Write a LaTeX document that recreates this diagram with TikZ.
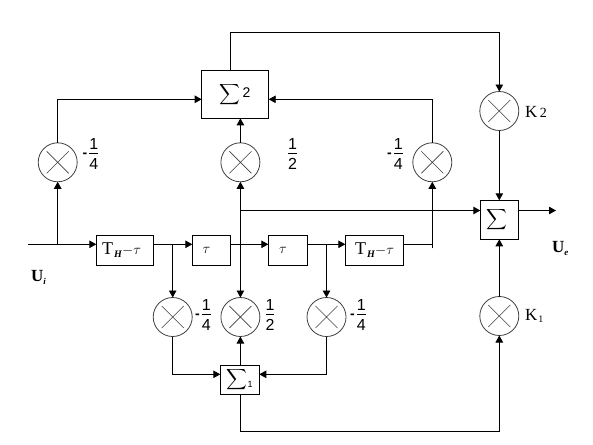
\documentclass[tikz,border=0pt]{standalone}
\usepackage{amsmath}
\usepackage{fontspec}
\setmainfont{Liberation Serif}
\newfontfamily\fracfont{Liberation Sans}
\usetikzlibrary{arrows.meta}
\newcommand{\fr}[2]{\begin{tabular}{@{}c@{}}\fracfont\fontsize{16}{16}\selectfont\rule[-2.5pt]{0pt}{12pt}#1\\[-0.4pt]\noalign{\vspace{0pt}}\hline\fracfont\fontsize{16}{16}\selectfont\rule{0pt}{16.5pt}#2\end{tabular}}
\newcommand{\mfr}[2]{\raisebox{1.5pt}{\fracfont\bfseries\fontsize{14}{14}\selectfont -}\hspace{2pt}\fr{#1}{#2}}
\newcommand{\bigsum}{\fontsize{15}{15}\selectfont$\displaystyle\sum$}
\newcommand{\thtau}{\fontsize{18}{18}\selectfont T\hspace{1pt}\raisebox{-3pt}{\fontsize{10}{10}\selectfont\textit{\textbf{H}}}\fontsize{14}{14}\selectfont$-\tau$}
\tikzset{
  x=1pt,y=-1pt,
  every node/.style={inner sep=0pt,outer sep=0pt},
  conn/.style={line width=0.9pt,black},
  arr/.style={conn,-{Triangle[length=7pt,width=7.5pt]}},
  mult/.style={circle,draw=black!75,line width=0.8pt,minimum size=39pt,
    path picture={\draw[line width=0.6pt,black!75]
      ([xshift=-11pt,yshift=-11pt]path picture bounding box.center)--([xshift=11pt,yshift=11pt]path picture bounding box.center)
      ([xshift=-11pt,yshift=11pt]path picture bounding box.center)--([xshift=11pt,yshift=-11pt]path picture bounding box.center);}},
  blk/.style={draw=black,line width=0.9pt,fill=white},
  lab/.style={font=\fontsize{17}{17}\selectfont},
}
\begin{document}
\begin{tikzpicture}
\useasboundingbox[fill=white] (0,0) rectangle (593,444);
% multipliers
\node[mult] (m1) at (57.7,162.3) {};
\node[mult] (m2) at (240.4,162.3) {};
\node[mult] (m3) at (432.3,162.3) {};
\node[mult] (k2) at (499.3,111) {};
\node[mult] (k1) at (499.3,316) {};
\node[mult] (b1) at (172.7,317) {};
\node[mult] (b2) at (240.4,317) {};
\node[mult] (b3) at (326.5,317) {};
% blocks
\node[blk,minimum width=57.4pt,minimum height=30pt] (th1) at (125,250.3) {\hspace{-7pt}\thtau};
\node[blk,minimum width=38.4pt,minimum height=30pt] (t1) at (211.5,250.3) {\hspace{-10pt}\fontsize{14}{14}\selectfont$\tau$};
\node[blk,minimum width=39.4pt,minimum height=30pt] (t2) at (288,250.3) {\hspace{-10pt}\fontsize{14}{14}\selectfont$\tau$};
\node[blk,minimum width=58.4pt,minimum height=30pt] (th2) at (374.5,250.3) {\thtau};
\node[blk,minimum width=38.4pt,minimum height=39pt] (sg) at (499.5,219.8) {\hspace{-6pt}\bigsum};
\node[blk,minimum width=39pt,minimum height=29pt] (s1) at (239.8,379.8) {\bigsum\raisebox{-4pt}{\fracfont\fontsize{9}{9}\selectfont 1}};
\node[blk,minimum width=67pt,minimum height=48pt] (s2) at (235.2,94.3) {\raisebox{5pt}{\bigsum\hspace{2pt}\fracfont\fontsize{14}{14}\selectfont 2}};
% junctions and free ends
\coordinate (in) at (28,244.3);
\coordinate (j1) at (57.7,244.3);
\coordinate (c1) at (57.7,99.3);
\coordinate (c3) at (432.3,99.3);
\coordinate (top1) at (230.3,32.3);
\coordinate (top2) at (499.3,32.3);
\coordinate (jc) at (240.4,210.5);
\coordinate (jth) at (172.7,244.3);
\coordinate (jt2) at (326.5,244.3);
\coordinate (th2o) at (432.3,244.3);
\coordinate (th2e) at (432.3,248.3);
\coordinate (out) at (556,210.5);
\coordinate (l1) at (172.7,374.3);
\coordinate (l3) at (326.5,374.3);
\coordinate (bot1) at (240.4,431);
\coordinate (bot2) at (499.3,431);
% connectors
\draw[conn] (in) -- (j1);
\draw[arr] (j1) -- (th1.west |- j1);
\draw[arr] (j1) -- (m1.south);
\draw[arr] (m1.north) -- (c1) -- (s2.west |- c1);
\draw[arr] (m2.north) -- (m2.north |- s2.south);
\draw[arr] (m3.north) -- (c3) -- (s2.east |- c3);
\draw[arr] (top1 |- s2.north) -- (top1) -- (top2) -- (k2.north);
\draw[arr] (k2.south) -- (sg.north -| k2.south);
\draw[arr] (k1.north) -- (sg.south -| k1.north);
\draw[arr] (sg.east |- out) -- (out);
\draw[arr] (jc) -- (sg.west |- jc);
\draw[arr] (jc) -- (m2.south);
\draw[arr] (jc) -- (b2.north);
\draw[arr] (th1.east |- jth) -- (t1.west |- jth);
\draw[arr] (jth) -- (b1.north);
\draw[arr] (t1.east |- jth) -- (t2.west |- jth);
\draw[arr] (t2.east |- jt2) -- (th2.west |- jt2);
\draw[arr] (jt2) -- (b3.north);
\draw[conn] (th2.east |- th2o) -- (th2o);
\draw[arr] (th2e) -- (m3.south);
\draw[arr] (b1.south) -- (l1) -- (s1.west |- l1);
\draw[arr] (b3.south) -- (l3) -- (s1.east |- l3);
\draw[arr] (s1.north -| b2.south) -- (b2.south);
\draw[arr] (bot1 |- s1.south) -- (bot1) -- (bot2) -- (k1.south);
% labels
\node (lm1) at (90.5,156) {\mfr{1}{4}};
\node (lm2) at (292.5,156) {\fr{1}{2}};
\node (lm3) at (395,156) {\mfr{1}{4}};
\node (lb1) at (203,317) {\mfr{1}{4}};
\node (lb2) at (270,317) {\fr{1}{2}};
\node (lb3) at (358,317) {\mfr{1}{4}};
\node[lab,anchor=west] (lk2) at (525,112) {K\hspace{2.5pt}{\fontsize{14}{14}\selectfont 2}};
\node[lab,anchor=west] (lk1) at (525,316) {K\hspace{1pt}\raisebox{-2.5pt}{\fontsize{10}{10}\selectfont 1}};
\node[lab,anchor=west,font=\fontsize{17}{17}\selectfont\bfseries] (lui) at (31,277.5) {U\raisebox{-3pt}{\fontsize{9}{9}\selectfont\textit{i}}};
\node[lab,anchor=west,font=\fontsize{17}{17}\selectfont\bfseries] (lue) at (552,248.5) {U\raisebox{-3pt}{\fontsize{9}{9}\selectfont\textit{e}}};
\end{tikzpicture}
\end{document}
